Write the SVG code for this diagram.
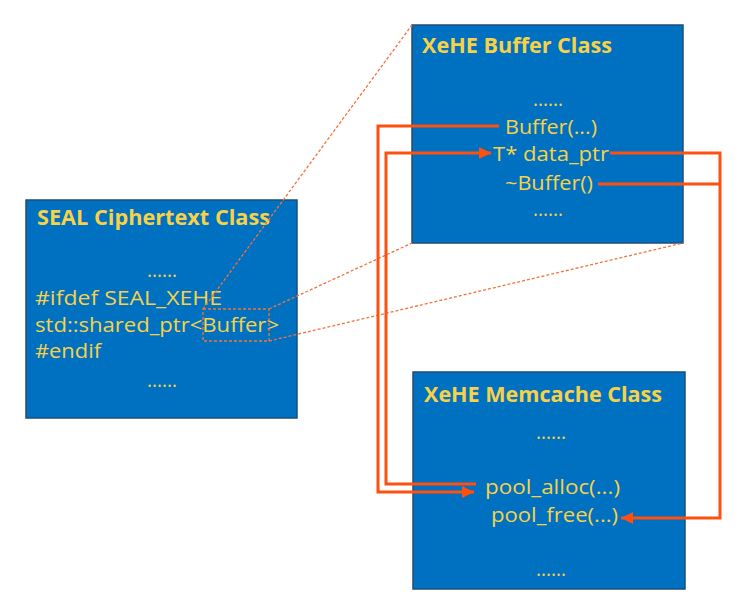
<svg xmlns="http://www.w3.org/2000/svg" width="750" height="605" viewBox="0 0 750 605">
<defs>
<style>
.box{fill:#0070C0;stroke:#1F4E79;stroke-width:1.5}
.t{font-family:"Open Sans","Liberation Sans",sans-serif;fill:#F7D248}
.title{font-size:22px;font-weight:bold}
.body{font-size:20.5px}
.conn{fill:none;stroke:#FF5010;stroke-width:3}
.dash{fill:none;stroke:#F0743A;stroke-width:1.3;stroke-dasharray:3 2}
</style>
<marker id="ah" markerUnits="userSpaceOnUse" markerWidth="14" markerHeight="12" refX="12" refY="6" orient="auto">
<path d="M0,0 L12,6 L0,12 Z" fill="#FF5010"/>
</marker>
</defs>
<rect width="750" height="605" fill="#FFFFFF"/>
<g id="seal">
<rect class="box" x="26" y="200" width="271" height="218"/>
<text class="t title" x="37" y="225" textLength="233" lengthAdjust="spacingAndGlyphs">SEAL Ciphertext Class</text>
<text class="t body" x="147" y="277" textLength="30" lengthAdjust="spacingAndGlyphs">......</text>
<text class="t body" x="35" y="305" textLength="187" lengthAdjust="spacingAndGlyphs">#ifdef SEAL_XEHE</text>
<text class="t body" x="35" y="332" textLength="244" lengthAdjust="spacingAndGlyphs">std::shared_ptr&lt;Buffer&gt;</text>
<text class="t body" x="35" y="358" textLength="66" lengthAdjust="spacingAndGlyphs">#endif</text>
<text class="t body" x="147" y="387" textLength="30" lengthAdjust="spacingAndGlyphs">......</text>
<rect class="dash" x="203" y="309" width="66" height="32" stroke-dasharray="4 3"/>
</g>
<g id="buffer">
<rect class="box" x="412" y="25" width="271" height="218"/>
<text class="t title" x="422" y="53" textLength="190" lengthAdjust="spacingAndGlyphs">XeHE Buffer Class</text>
<text class="t body" x="533" y="106" textLength="30" lengthAdjust="spacingAndGlyphs">......</text>
<text class="t body" x="505" y="134" textLength="92" lengthAdjust="spacingAndGlyphs">Buffer(...)</text>
<text class="t body" x="493" y="161" textLength="116" lengthAdjust="spacingAndGlyphs">T* data_ptr</text>
<text class="t body" x="505" y="190" textLength="88" lengthAdjust="spacingAndGlyphs">~Buffer()</text>
<text class="t body" x="533" y="216" textLength="30" lengthAdjust="spacingAndGlyphs">......</text>
</g>
<g id="memcache">
<rect class="box" x="413" y="372" width="272" height="217" stroke="#1F3864"/>
<text class="t title" x="424" y="402" textLength="238" lengthAdjust="spacingAndGlyphs">XeHE Memcache Class</text>
<text class="t body" x="536" y="439" textLength="30" lengthAdjust="spacingAndGlyphs">......</text>
<text class="t body" x="485" y="494" textLength="135" lengthAdjust="spacingAndGlyphs">pool_alloc(...)</text>
<text class="t body" x="491" y="522" textLength="127" lengthAdjust="spacingAndGlyphs">pool_free(...)</text>
<text class="t body" x="536" y="576" textLength="30" lengthAdjust="spacingAndGlyphs">......</text>
</g>
<g id="connectors">
<path class="dash" d="M203,309 L412,25"/>
<path class="dash" d="M269,309 L412,243"/>
<path class="dash" d="M269,341 L683,243"/>
<path class="conn" d="M499,126 H378 V492 H474" marker-end="url(#ah)"/>
<path class="conn" d="M476,484 H386 V153 H491" marker-end="url(#ah)"/>
<path class="conn" d="M610,153 H720 V518 H621" marker-end="url(#ah)"/>
<path class="conn" d="M598,184 H720"/>
</g>
</svg>
